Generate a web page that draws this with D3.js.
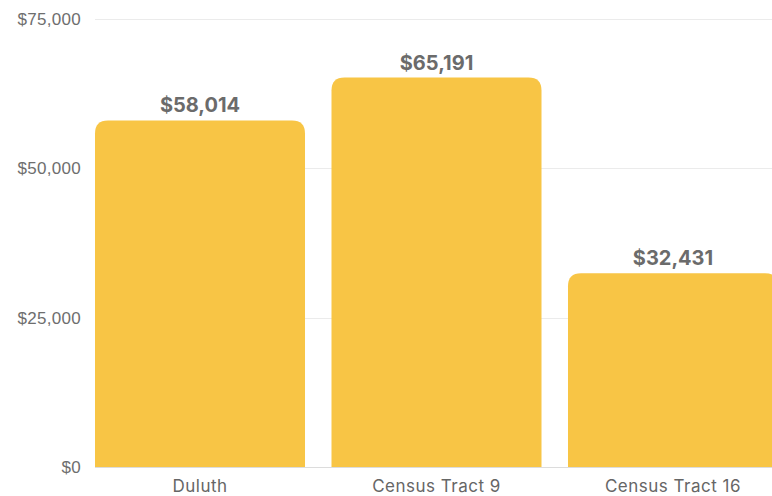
<!DOCTYPE html>
<html>
<head>
<meta charset="utf-8">
<script src="https://cdn.jsdelivr.net/npm/d3@7"></script>
<style>
  body { margin: 0; background: #fff; }
  svg { display: block; }
</style>
</head>
<body>
<svg></svg>
<script>
var categories = ["Duluth", "Census Tract 9", "Census Tract 16"],
    values = [58014, 65191, 32431],
    ticks = [0, 25000, 50000, 75000];

var width = 772,
    height = 496,
    margin = {top: 19, left: 95, bottom: 29},
    barColor = "#f8c545",
    radius = 13,
    svg = d3.select("svg").attr("width", width).attr("height", height),
    fmt = d3.format(",");

var x = d3.scaleBand()
    .domain(categories)
    .range([margin.left, 778])
    .paddingInner(0.112)
    .paddingOuter(0);

var y = d3.scaleLinear()
    .domain([0, 75000])
    .range([height - margin.bottom, margin.top]);

// grid
svg.append("g")
    .selectAll("line")
    .data(ticks)
    .enter().append("line")
    .attr("x1", margin.left)
    .attr("x2", width)
    .attr("y1", function(d) { return Math.round(y(d)) + 0.5; })
    .attr("y2", function(d) { return Math.round(y(d)) + 0.5; })
    .attr("stroke", function(d) { return d === 0 ? "#dcdcdc" : "#ebebeb"; })
    .attr("stroke-width", 1);

// y tick labels
svg.append("g")
    .selectAll("text")
    .data(ticks)
    .enter().append("text")
    .attr("x", 81)
    .attr("y", function(d) { return y(d); })
    .attr("dy", "0.35em")
    .attr("text-anchor", "end")
    .attr("fill", "#6e6e6e")
    .style("font-family", "'Liberation Sans', Arial, sans-serif")
    .style("font-size", "17px")
    .style("letter-spacing", "0.3px")
    .text(function(d) { return "$" + fmt(d); });

// bars with rounded tops
function barPath(x0, y0, w, h, r) {
    return "M" + x0 + "," + (y0 + h) +
        "V" + (y0 + r) +
        "Q" + x0 + "," + y0 + " " + (x0 + r) + "," + y0 +
        "H" + (x0 + w - r) +
        "Q" + (x0 + w) + "," + y0 + " " + (x0 + w) + "," + (y0 + r) +
        "V" + (y0 + h) + "Z";
}

var data = categories.map(function(c, i) { return {name: c, value: values[i]}; });

svg.append("g")
    .selectAll("path")
    .data(data)
    .enter().append("path")
    .attr("d", function(d) {
        return barPath(x(d.name), y(d.value), x.bandwidth(), y(0) - y(d.value), radius);
    })
    .attr("fill", barColor);

// value labels
svg.append("g")
    .selectAll("text")
    .data(data)
    .enter().append("text")
    .attr("x", function(d) { return x(d.name) + x.bandwidth() / 2; })
    .attr("y", function(d) { return y(d.value) - 8; })
    .attr("text-anchor", "middle")
    .attr("fill", "#6b6b6b")
    .style("font-family", "Inter, 'Open Sans', sans-serif")
    .style("font-weight", "700")
    .style("font-size", "20px")
    .text(function(d) { return "$" + fmt(d.value); });

// category labels
svg.append("g")
    .selectAll("text")
    .data(data)
    .enter().append("text")
    .attr("x", function(d) { return x(d.name) + x.bandwidth() / 2; })
    .attr("y", 492)
    .attr("text-anchor", "middle")
    .attr("fill", "#666")
    .style("font-family", "Inter, 'Open Sans', sans-serif")
    .style("font-size", "17px")
    .style("letter-spacing", "0.5px")
    .text(function(d) { return d.name; });
</script>
</body>
</html>
